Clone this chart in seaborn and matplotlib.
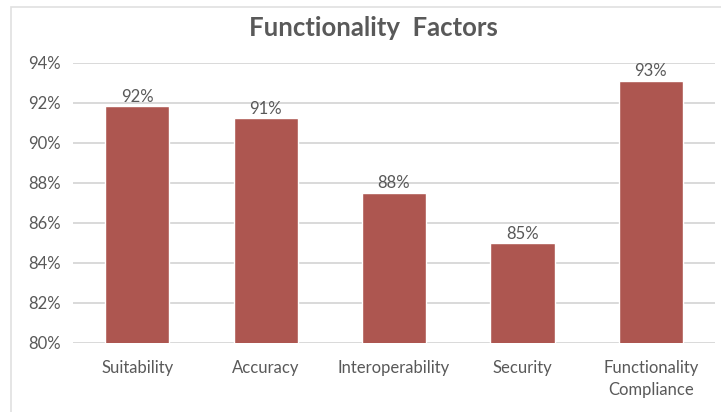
import matplotlib
matplotlib.use("Agg")
import matplotlib.pyplot as plt
import matplotlib.patches as mpatches
import seaborn as sns
import pandas as pd

# Chart data (percent values)
categories = ["Suitability", "Accuracy", "Interoperability", "Security",
              "Functionality\nCompliance"]
scores = [91.85, 91.25, 87.52, 84.98, 93.12]
y_ticks = [80, 82, 84, 86, 88, 90, 92, 94]

BAR_COLOR = "#AD5650"
TEXT_COLOR = "#595959"
GRID_COLOR = "#D9D9D9"

sns.set_theme(style="white")
plt.rcParams['font.family'] = ['Lato', 'DejaVu Sans']

df = pd.DataFrame({"factor": categories, "score": scores})

fig = plt.figure(figsize=(7.21, 4.12), dpi=100)
ax = fig.add_axes([73 / 721, 1 - 343 / 412, 642 / 721, 280 / 412])

sns.barplot(data=df, x="factor", y="score", color=BAR_COLOR, width=0.5,
            saturation=1, ax=ax, zorder=3)

ax.set_ylim(80, 94)
ax.set_yticks(y_ticks)
ax.set_yticklabels([f"{v}%" for v in y_ticks], color=TEXT_COLOR, fontsize=12)
ax.tick_params(axis="x", colors=TEXT_COLOR, labelsize=12, length=0, pad=12)
ax.tick_params(axis="y", length=0, pad=9)
for lbl in ax.get_xticklabels():
    lbl.set_linespacing(1.45)
ax.set_xlabel("")
ax.set_ylabel("")

for v in y_ticks:
    ax.axhline(v, color=GRID_COLOR, linewidth=1.4, zorder=1)
for side in ["top", "right", "left", "bottom"]:
    ax.spines[side].set_visible(False)

ax.bar_label(ax.containers[0], labels=[f"{round(v)}%" for v in scores],
             color=TEXT_COLOR, fontsize=12, padding=1)

fig.text(373 / 721, 1 - 28 / 412, "Functionality  Factors", ha="center",
         va="center", fontsize=18.5, fontweight="bold", color=TEXT_COLOR)

# light chart-area frame (left and top edges visible)
frame = mpatches.Rectangle((11 / 721, -0.1), 1.2, 1 - 7 / 412 + 0.1,
                           transform=fig.transFigure, fill=False,
                           edgecolor="#E0E0E0", linewidth=1.2)
fig.patches.append(frame)

fig.savefig("out.png", dpi=100)
